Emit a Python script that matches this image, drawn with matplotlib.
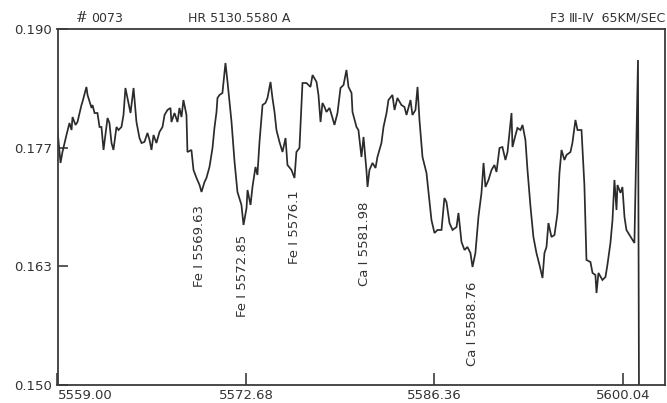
import matplotlib
matplotlib.use("Agg")
import matplotlib.pyplot as plt

# ---------------- data ----------------
wavelength = [
    5559.00, 5559.22, 5559.36, 5559.65, 5559.87, 5560.02, 5560.09, 5560.31, 5560.45, 5560.74,
    5560.81, 5561.10, 5561.18, 5561.47, 5561.54, 5561.69, 5561.90, 5562.05, 5562.19, 5562.34,
    5562.63, 5562.77, 5562.92, 5563.06, 5563.28, 5563.43, 5563.64, 5563.79, 5563.93, 5564.08,
    5564.30, 5564.52, 5564.73, 5564.95, 5565.10, 5565.31, 5565.53, 5565.68, 5565.82, 5565.97,
    5566.18, 5566.40, 5566.62, 5566.77, 5566.98, 5567.20, 5567.27, 5567.49, 5567.71, 5567.85,
    5568.00, 5568.14, 5568.36, 5568.43, 5568.72, 5568.87, 5569.09, 5569.31, 5569.45, 5569.67,
    5569.81, 5570.03, 5570.25, 5570.39, 5570.54, 5570.61, 5570.76, 5570.97, 5571.19, 5571.34,
    5571.63, 5571.85, 5572.06, 5572.35, 5572.50, 5572.72, 5572.79, 5573.01, 5573.15, 5573.37,
    5573.51, 5573.66, 5573.88, 5574.09, 5574.24, 5574.46, 5574.60, 5574.75, 5574.89, 5575.11,
    5575.33, 5575.55, 5575.69, 5575.98, 5576.20, 5576.34, 5576.56, 5576.78, 5577.07, 5577.36,
    5577.51, 5577.80, 5577.94, 5578.09, 5578.23, 5578.38, 5578.52, 5578.74, 5578.96, 5579.10,
    5579.32, 5579.54, 5579.76, 5579.97, 5580.12, 5580.34, 5580.41, 5580.70, 5580.84, 5581.06,
    5581.21, 5581.42, 5581.50, 5581.64, 5581.86, 5582.08, 5582.22, 5582.51, 5582.66, 5582.88,
    5583.02, 5583.31, 5583.46, 5583.67, 5583.96, 5584.18, 5584.33, 5584.62, 5584.76, 5584.98,
    5585.13, 5585.27, 5585.49, 5585.78, 5585.85, 5586.14, 5586.36, 5586.58, 5586.87, 5587.08,
    5587.23, 5587.45, 5587.67, 5587.96, 5588.10, 5588.32, 5588.54, 5588.75, 5588.97, 5589.12,
    5589.33, 5589.55, 5589.77, 5589.92, 5590.06, 5590.28, 5590.50, 5590.71, 5590.86, 5591.08,
    5591.29, 5591.51, 5591.66, 5591.95, 5592.02, 5592.24, 5592.38, 5592.60, 5592.75, 5592.96,
    5593.11, 5593.33, 5593.54, 5593.76, 5593.98, 5594.20, 5594.34, 5594.49, 5594.63, 5594.85,
    5595.07, 5595.29, 5595.43, 5595.58, 5595.79, 5595.94, 5596.23, 5596.37, 5596.59, 5596.74,
    5597.03, 5597.24, 5597.39, 5597.68, 5597.83, 5598.04, 5598.12, 5598.26, 5598.55, 5598.77,
    5598.91, 5599.13, 5599.28, 5599.42, 5599.57, 5599.64, 5599.86, 5600.00, 5600.15, 5600.29,
    5600.51, 5600.73, 5600.87, 5601.13, 5601.20,
]
flux = [
    0.17865, 0.17495, 0.17618, 0.17809, 0.17944, 0.17865, 0.18011, 0.17922, 0.17955, 0.18146,
    0.18180, 0.18349, 0.18259, 0.18113, 0.18146, 0.18056, 0.18056, 0.17899, 0.17899, 0.17641,
    0.18000, 0.17944, 0.17719, 0.17641, 0.17899, 0.17865, 0.17899, 0.18034, 0.18337, 0.18225,
    0.18056, 0.18337, 0.17955, 0.17775, 0.17719, 0.17731, 0.17832, 0.17753, 0.17641, 0.17809,
    0.17719, 0.17843, 0.17899, 0.18034, 0.18090, 0.18113, 0.17955, 0.18056, 0.17955, 0.18113,
    0.18011, 0.18202, 0.18034, 0.17618, 0.17641, 0.17416, 0.17326, 0.17247, 0.17169, 0.17281,
    0.17326, 0.17450, 0.17663, 0.17888, 0.18068, 0.18225, 0.18259, 0.18281, 0.18618, 0.18405,
    0.17955, 0.17506, 0.17169, 0.17023, 0.16798, 0.16989, 0.17191, 0.17023, 0.17225, 0.17450,
    0.17360, 0.17731, 0.18146, 0.18169, 0.18225, 0.18405, 0.18225, 0.18068, 0.17865, 0.17731,
    0.17618, 0.17775, 0.17472, 0.17416, 0.17326, 0.17618, 0.17663, 0.18393, 0.18393, 0.18349,
    0.18483, 0.18405, 0.18259, 0.17955, 0.18169, 0.18124, 0.18068, 0.18113, 0.18000, 0.17922,
    0.18056, 0.18337, 0.18371, 0.18540, 0.18349, 0.18281, 0.18068, 0.17899, 0.17865, 0.17562,
    0.17787, 0.17416, 0.17225, 0.17416, 0.17495, 0.17438, 0.17562, 0.17719, 0.17899, 0.18056,
    0.18202, 0.18259, 0.18090, 0.18225, 0.18146, 0.18124, 0.18034, 0.18202, 0.18034, 0.18090,
    0.18349, 0.17978, 0.17562, 0.17382, 0.17281, 0.16854, 0.16708, 0.16742, 0.16742, 0.17101,
    0.17056, 0.16820, 0.16742, 0.16775, 0.16933, 0.16607, 0.16517, 0.16551, 0.16483, 0.16326,
    0.16483, 0.16888, 0.17158, 0.17495, 0.17225, 0.17304, 0.17416, 0.17472, 0.17393, 0.17663,
    0.17674, 0.17528, 0.17618, 0.18056, 0.17674, 0.17809, 0.17888, 0.17865, 0.17922, 0.17753,
    0.17416, 0.17000, 0.16663, 0.16483, 0.16349, 0.16202, 0.16483, 0.16551, 0.16820, 0.16663,
    0.16686, 0.16933, 0.17382, 0.17641, 0.17528, 0.17584, 0.17618, 0.17719, 0.17978, 0.17865,
    0.17865, 0.17247, 0.16405, 0.16382, 0.16259, 0.16236, 0.16034, 0.16259, 0.16180, 0.16214,
    0.16349, 0.16596, 0.16854, 0.17304, 0.16966, 0.17247, 0.17158, 0.17225, 0.16888, 0.16742,
    0.16686, 0.16629, 0.16596, 0.18652, 0.15000,
]

x_ticks = [5559.00, 5572.68, 5586.36, 5600.04]
x_tick_labels = ["5559.00", "5572.68", "5586.36", "5600.04"]
y_ticks = [0.150, 0.150 + 0.040 / 3, 0.150 + 0.080 / 3, 0.190]
y_tick_labels = ["0.150", "0.163", "0.177", "0.190"]

line_labels = ["Fe \u2160 5569.63", "Fe \u2160 5572.85", "Fe \u2160 5576.1",
               "Ca \u2160 5581.98", "Ca \u2160 5588.76"]
label_x = [5569.31, 5572.43, 5576.20, 5581.28, 5589.12]
label_top = [0.1702, 0.1669, 0.1719, 0.1706, 0.1616]

title_hash = "#"
title_left = "0073"
title_mid = "HR 5130.5580 A"
title_right = "F3 \u2162-\u2163  65KM/SEC"

# ---------------- plot ----------------
plt.rcParams['font.family'] = ['DejaVu Sans']
ink = '#2b2b2b'
txt_c = '#333333'

fig = plt.figure(figsize=(6.67, 4.03), dpi=100)
ax = fig.add_axes([57.5 / 667, 18 / 403, (665 - 57.5) / 667, 356 / 403])

ax.plot(wavelength, flux, color=ink, lw=1.25, solid_joinstyle='miter')

ax.set_xlim(5559.0, 5603.09)
ax.set_ylim(0.150, 0.190)

ax.set_xticks(x_ticks)
ax.set_xticklabels(x_tick_labels)
ax.set_yticks(y_ticks)
ax.set_yticklabels(y_tick_labels)
ax.tick_params(axis='both', direction='in', colors=ink, labelcolor=txt_c,
               labelsize=9.5, width=1.1)
ax.tick_params(axis='x', length=9, pad=3)
ax.tick_params(axis='y', length=7, pad=4)
xl = ax.get_xticklabels()
xl[0].set_horizontalalignment('left')

for s in ax.spines.values():
    s.set_color('#3a3a3a')
    s.set_linewidth(1.3)

for txt, xx, yy in zip(line_labels, label_x, label_top):
    ax.text(xx, yy, txt, rotation=90, ha='center', va='top',
            fontsize=9.5, color=txt_c)

ty = 1 - 18 / 403
fig.text(76 / 667, ty, title_hash, fontsize=10, color=txt_c,
         ha='left', va='center', fontstyle='italic', family='DejaVu Serif')
fig.text(91 / 667, ty, title_left, fontsize=9, color=txt_c,
         ha='left', va='center')
fig.text(188 / 667, ty, title_mid, fontsize=9, color=txt_c,
         ha='left', va='center')
fig.text(665 / 667, ty, title_right, fontsize=9, color=txt_c,
         ha='right', va='center')

fig.savefig("out.png", dpi=100, facecolor='white')
